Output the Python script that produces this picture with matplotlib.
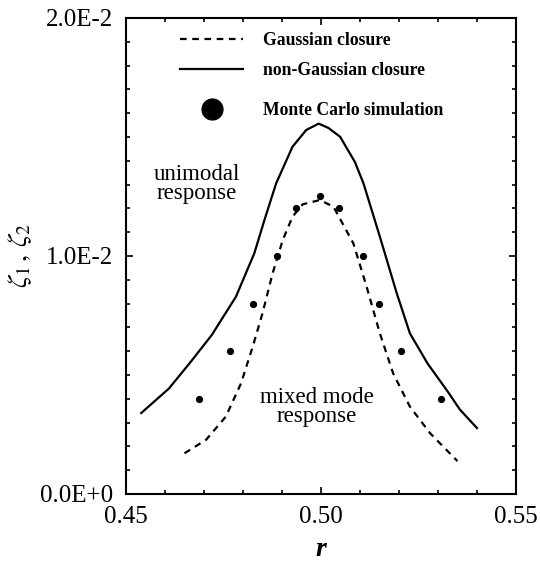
import matplotlib
matplotlib.use("Agg")
import matplotlib.pyplot as plt
from matplotlib.lines import Line2D
from matplotlib.ticker import MultipleLocator, FixedLocator, FixedFormatter

plt.rcParams['font.family'] = ['Liberation Serif', 'DejaVu Serif']
plt.rcParams['mathtext.fontset'] = 'stix'

# Gaussian closure (dashed)
r_gauss = [0.4650, 0.4705, 0.4756, 0.4795, 0.4825, 0.4850, 0.4876, 0.4902, 0.4927, 0.4953,
           0.4997, 0.5032, 0.5083, 0.5117, 0.5151, 0.5185, 0.5228, 0.5280, 0.5350]
z_gauss = [0.00171, 0.00227, 0.00325, 0.00465, 0.00619, 0.00759, 0.00927, 0.01067, 0.01165, 0.01217,
           0.01235, 0.01207, 0.01053, 0.00871, 0.00675, 0.00507, 0.00367, 0.00255, 0.00138]

# non-Gaussian closure (solid)
r_nongauss = [0.4539, 0.4610, 0.4663, 0.4720, 0.4782, 0.4829, 0.4855, 0.4885, 0.4927, 0.4962,
              0.4994, 0.5019, 0.5049, 0.5087, 0.5109, 0.5151, 0.5194, 0.5228, 0.5273, 0.5326,
              0.5356, 0.5400]
z_nongauss = [0.00340, 0.00443, 0.00549, 0.00668, 0.00829, 0.01011, 0.01151, 0.01305, 0.01459, 0.01529,
              0.01556, 0.01538, 0.01501, 0.01395, 0.01305, 0.01081, 0.00845, 0.00675, 0.00549, 0.00428,
              0.00355, 0.00277]

# Monte Carlo simulation (dots)
r_mc = [0.4687, 0.4767, 0.4826, 0.4886, 0.4935, 0.4997, 0.5047, 0.5107, 0.5149, 0.5206, 0.5308]
z_mc = [0.0040, 0.0060, 0.0080, 0.0100, 0.0120, 0.0125, 0.0120, 0.0100, 0.0080, 0.0060, 0.0040]

x_ticks = [0.45, 0.50, 0.55]
x_ticklabels = ['0.45', '0.50', '0.55']
y_ticks = [0.0, 0.01, 0.02]
y_ticklabels = ['0.0E+0', '1.0E-2', '2.0E-2']

fig = plt.figure(figsize=(5.4, 5.65), dpi=100)
ax = fig.add_axes([0.2333, 0.1257, 0.7222, 0.8425])

ln_g, = ax.plot(r_gauss, z_gauss, color='black', lw=1.6, dashes=(3.0, 2.5))
ln_n, = ax.plot(r_nongauss, z_nongauss, color='black', lw=1.6)
ax.plot(r_mc, z_mc, 'o', color='black', markersize=4.2, linestyle='none')

ax.set_xlim(0.45, 0.55)
ax.set_ylim(0.0, 0.02)
ax.xaxis.set_major_locator(FixedLocator(x_ticks))
ax.xaxis.set_major_formatter(FixedFormatter(x_ticklabels))
ax.yaxis.set_major_locator(FixedLocator(y_ticks))
ax.yaxis.set_major_formatter(FixedFormatter(y_ticklabels))
ax.xaxis.set_minor_locator(MultipleLocator(0.01))
ax.yaxis.set_minor_locator(MultipleLocator(0.001))
ax.tick_params(which='both', direction='in', top=True, right=True, width=1.2)
ax.tick_params(which='major', length=5, labelsize=18, pad=9)
ax.tick_params(which='minor', length=3)
for sp in ax.spines.values():
    sp.set_linewidth(1.5)

ax.set_xlabel('r', fontsize=20, fontstyle='italic', fontweight='bold')
ax.xaxis.set_label_coords(0.5, -0.09)
ax.set_ylabel(r'$\zeta_1\,,\,\zeta_2$', fontsize=20)
ax.yaxis.set_label_coords(-0.235, 0.5)

ax.text(0.4682, 0.01303, 'unimodal\nresponse', fontsize=16.5, ha='center', va='center',
        linespacing=0.85)
ax.text(0.4990, 0.00366, 'mixed mode\nresponse', fontsize=16.5, ha='center', va='center',
        linespacing=0.85)

leg_prop = {'size': 12.7, 'weight': 'bold'}
leg1 = ax.legend([ln_g, ln_n], ['Gaussian closure', 'non-Gaussian closure'],
                 loc='center left', bbox_to_anchor=(0.12, 0.921), frameon=False,
                 prop=leg_prop, handlelength=3.6, handletextpad=1.1,
                 labelspacing=0.72, borderaxespad=0.0)
ax.add_artist(leg1)
mc_handle = Line2D([], [], marker='o', color='black', markersize=15, linestyle='none')
ax.legend([mc_handle], ['Monte Carlo simulation'],
          loc='center left', bbox_to_anchor=(0.12, 0.805), frameon=False,
          prop=leg_prop, handlelength=3.6, handletextpad=1.1, borderaxespad=0.0)

fig.savefig('out.png', dpi=100)
